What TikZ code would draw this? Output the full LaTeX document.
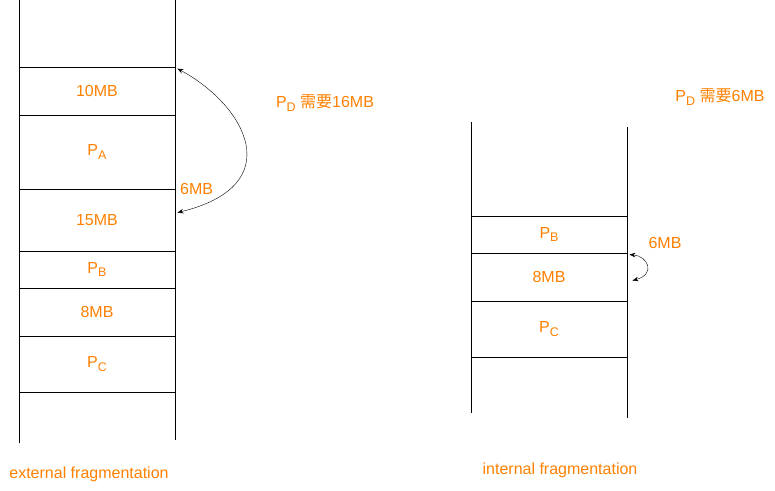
\documentclass[tikz,border=0pt]{standalone}
\usepackage{fontspec}
\setmainfont{Liberation Sans}
\newfontfamily\cjk{Noto Sans CJK SC}
\usepackage{xcolor}
\usetikzlibrary{arrows.meta,positioning,calc}
\definecolor{txtorange}{HTML}{FF8000}
\newcommand{\lowsub}[1]{\raisebox{-0.45ex}{\fontsize{12.5}{14}\selectfont #1}}
\tikzset{
  mem/.style={draw,thick,minimum width=156pt,inner sep=0pt,text=txtorange,font=\fontsize{16}{19}\selectfont},
  lbl/.style={text=txtorange,inner sep=0pt,font=\fontsize{16}{19}\selectfont},
  swing/.style={thin,{Stealth[length=6pt]}-{Stealth[length=6pt]}}
}
\begin{document}
\begin{tikzpicture}[x=1pt,y=-1pt]
        \useasboundingbox (0,0) rectangle (775,490);
        % external fragmentation
        \draw[thick] (19,0) -- (19,443);
        \draw[thick] (175,0) -- (175,440);
        \node[mem,minimum height=48pt] (e10) at (97,91) {10MB};
        \node[mem,minimum height=74pt] (ea) at (97,152) {P\lowsub{A}};
        \node[mem,minimum height=62pt] (e15) at (97,220) {15MB};
        \node[mem,minimum height=37pt] (eb) at (97,269.5) {P\lowsub{B}};
        \node[mem,minimum height=48pt] (e8) at (97,312) {8MB};
        \node[mem,minimum height=56pt] (ec) at (97,364) {P\lowsub{C}};
        \coordinate (etop) at ($(e10.north east)+(2,2)$);
        \coordinate (ebot) at ($(e15.north east)+(2,24)$);
        \draw[swing] (etop) .. controls (245,105) and (290,185) .. (ebot);
        \node[lbl,anchor=west] (e6) at (180,189) {6MB};
        \node[lbl] (ed) at (325,103) {P\lowsub{D} {\cjk 需要}16MB};
        \node[lbl] (ename) at (89,474) {external fragmentation};

        % internal fragmentation
        \draw[thick] (471,122) -- (471,413);
        \draw[thick] (627,127) -- (627,418);
        \node[mem,minimum height=37pt] (ib) at (549,234.5) {P\lowsub{B}};
        \node[mem,minimum height=48pt] (i8) at (549,277) {8MB};
        \node[mem,minimum height=56pt] (ic) at (549,329) {P\lowsub{C}};
        \coordinate (itop) at ($(i8.north east)+(2,2)$);
        \coordinate (ibot) at ($(i8.north east)+(5,28)$);
        \draw[swing] (itop) .. controls (648,256) and (656,274) .. (ibot);
        \node[lbl] (i6) at (665,243) {6MB};
        \node[lbl] (id) at (720,97) {P\lowsub{D} {\cjk 需要}6MB};
        \node[lbl] (iname) at (560,470) {internal fragmentation};
\end{tikzpicture}
\end{document}
